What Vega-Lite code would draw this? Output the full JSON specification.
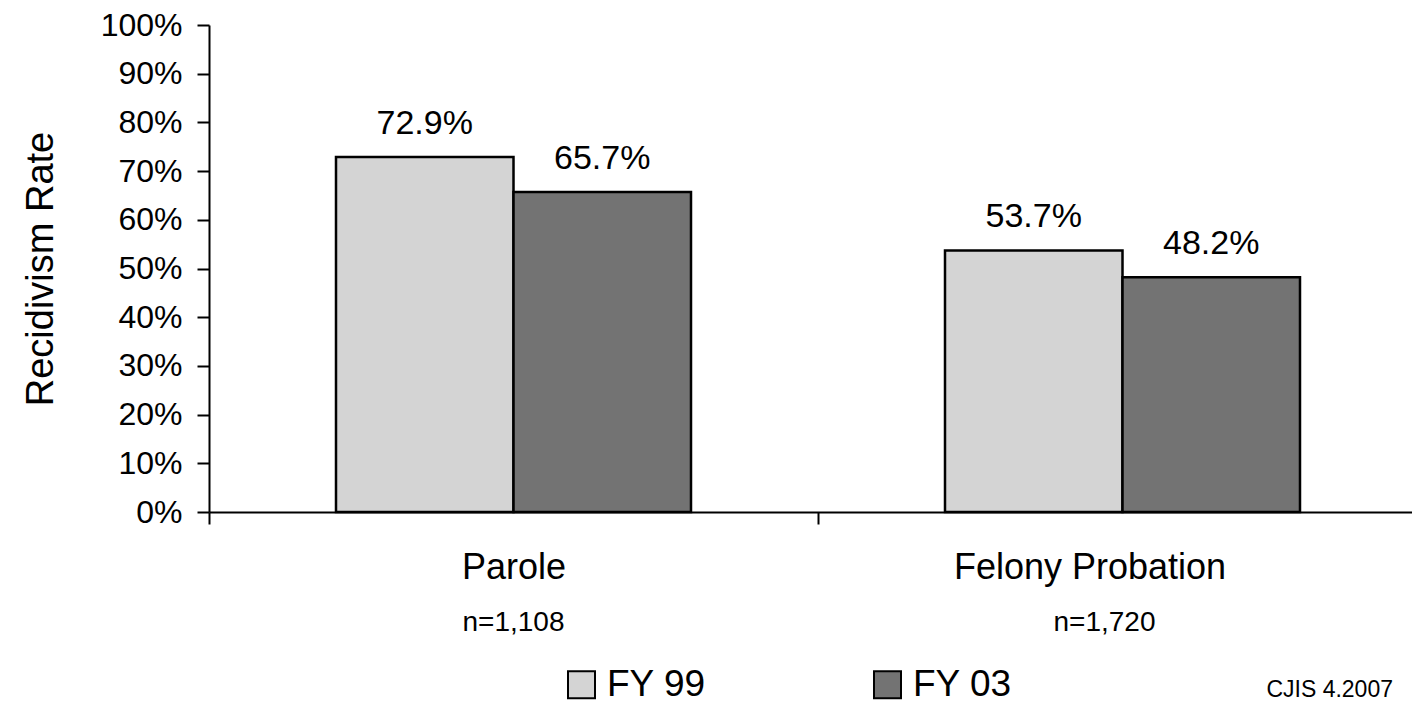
{
  "$schema": "https://vega.github.io/schema/vega-lite/v6.json",
  "width": 1203,
  "height": 487,
  "autosize": {"type": "none"},
  "padding": {"left": 209, "top": 25, "right": 0, "bottom": 194},
  "background": "white",
  "config": {
    "font": "Liberation Sans",
    "view": {"stroke": null},
    "axis": {"grid": false, "domainColor": "black", "tickColor": "black", "labelColor": "black", "titleColor": "black", "domainWidth": 2, "tickWidth": 2}
  },
  "title": {"text": "CJIS 4.2007", "orient": "bottom", "anchor": "end", "fontSize": 23, "fontWeight": "normal", "color": "black", "frame": "group", "dx": -19, "offset": -24},
  "data": {"values": [
    {"group": "Parole", "n": "n=1,108", "year": "FY 99", "rate": 0.729, "label": "72.9%"},
    {"group": "Parole", "n": "n=1,108", "year": "FY 03", "rate": 0.657, "label": "65.7%"},
    {"group": "Felony Probation", "n": "n=1,720", "year": "FY 99", "rate": 0.537, "label": "53.7%"},
    {"group": "Felony Probation", "n": "n=1,720", "year": "FY 03", "rate": 0.482, "label": "48.2%"}
  ]},
  "encoding": {
    "x": {"field": "group", "type": "nominal", "sort": ["Parole", "Felony Probation"],
      "scale": {"paddingInner": 0, "paddingOuter": 0, "range": [0, 1218]}},
    "xOffset": {"field": "year", "type": "nominal", "sort": ["FY 99", "FY 03"],
      "scale": {"paddingInner": 0, "paddingOuter": 0.7155}},
    "y": {"field": "rate", "type": "quantitative", "scale": {"domain": [0, 1]},
      "axis": {"title": "Recidivism Rate", "format": "%", "values": [0, 0.1, 0.2, 0.3, 0.4, 0.5, 0.6, 0.7, 0.8, 0.9, 1],
        "labelFontSize": 32, "tickSize": 12, "labelPadding": 15, "titleFontSize": 38, "titleFontWeight": "normal", "titlePadding": 40}}
  },
  "layer": [
    {
      "mark": {"type": "bar", "stroke": "black", "strokeWidth": 2.5},
      "encoding": {
        "x": {"field": "group", "type": "nominal", "sort": ["Parole", "Felony Probation"],
          "axis": {"title": null, "labelAngle": 0, "labelFontSize": 36, "labelLimit": 1000, "tickSize": 12, "tickBand": "extent", "labelPadding": 26,
            "labelOffset": {"condition": {"test": "datum.label == 'Felony Probation'", "value": -33}, "value": 0}}},
        "color": {"field": "year", "type": "nominal", "sort": ["FY 99", "FY 03"],
          "scale": {"domain": ["FY 99", "FY 03"], "range": ["#d4d4d4", "#737373"]},
          "legend": {"title": null, "orient": "none", "legendX": 354, "legendY": 641, "direction": "horizontal",
            "symbolType": "square", "symbolSize": 729, "symbolStrokeColor": "black", "symbolStrokeWidth": 2,
            "labelFontSize": 37, "labelColor": "black", "columnPadding": 163, "labelOffset": 7}}
      }
    },
    {
      "mark": {"type": "text", "baseline": "alphabetic", "dy": -23, "fontSize": 34, "color": "black"},
      "encoding": {
        "x": {"field": "group", "type": "nominal", "sort": ["Parole", "Felony Probation"],
          "axis": {"title": null, "orient": "bottom", "labelAngle": 0, "labelFontSize": 28, "ticks": false, "tickSize": 0, "domain": false, "labelPadding": 96,
            "labelOffset": {"condition": {"test": "datum.label == 'Felony Probation'", "value": -18}, "value": 0},
            "labelExpr": "datum.label == 'Parole' ? 'n=1,108' : 'n=1,720'"}},
        "text": {"field": "label"}
      }
    }
  ],
  "resolve": {"axis": {"x": "independent"}}
}
